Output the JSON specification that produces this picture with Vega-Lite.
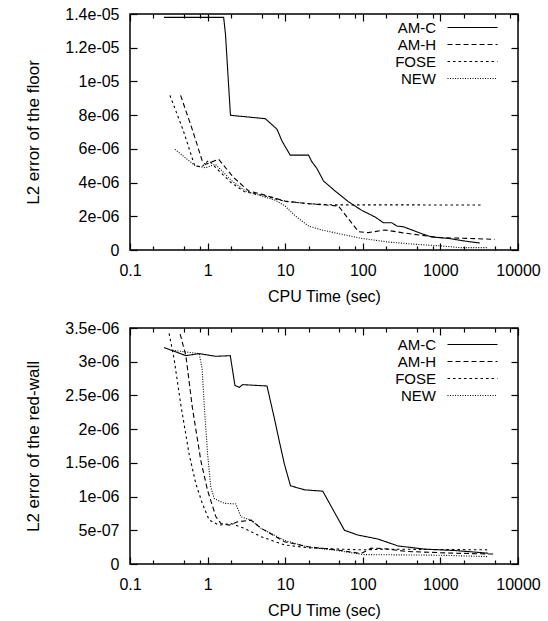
{
  "$schema": "https://vega.github.io/schema/vega-lite/v6.json",
  "padding": {"left": 23, "top": 5, "right": 5, "bottom": 5},
  "background": "white",
  "datasets": {
    "floor": [
      {"method": "AM-C", "t": 0.274, "err": 1.38e-05},
      {"method": "AM-C", "t": 1.61, "err": 1.38e-05},
      {"method": "AM-C", "t": 1.70, "err": 1.28e-05},
      {"method": "AM-C", "t": 1.97, "err": 7.99e-06},
      {"method": "AM-C", "t": 5.55, "err": 7.79e-06},
      {"method": "AM-C", "t": 7.85, "err": 7.16e-06},
      {"method": "AM-C", "t": 9.1, "err": 6.46e-06},
      {"method": "AM-C", "t": 11.6, "err": 5.63e-06},
      {"method": "AM-C", "t": 20, "err": 5.63e-06},
      {"method": "AM-C", "t": 22, "err": 5.24e-06},
      {"method": "AM-C", "t": 25.6, "err": 4.84e-06},
      {"method": "AM-C", "t": 31.2, "err": 4.09e-06},
      {"method": "AM-C", "t": 44, "err": 3.5e-06},
      {"method": "AM-C", "t": 65, "err": 2.87e-06},
      {"method": "AM-C", "t": 97, "err": 2.35e-06},
      {"method": "AM-C", "t": 144, "err": 1.96e-06},
      {"method": "AM-C", "t": 184, "err": 1.62e-06},
      {"method": "AM-C", "t": 236, "err": 1.62e-06},
      {"method": "AM-C", "t": 274, "err": 1.42e-06},
      {"method": "AM-C", "t": 333, "err": 1.38e-06},
      {"method": "AM-C", "t": 573, "err": 9.7e-07},
      {"method": "AM-C", "t": 770, "err": 7.7e-07},
      {"method": "AM-C", "t": 1260, "err": 6.9e-07},
      {"method": "AM-C", "t": 2065, "err": 5.3e-07},
      {"method": "AM-C", "t": 3220, "err": 4.15e-07},
      {"method": "AM-H", "t": 0.449, "err": 9.17e-06},
      {"method": "AM-H", "t": 0.634, "err": 7.16e-06},
      {"method": "AM-H", "t": 0.853, "err": 5.28e-06},
      {"method": "AM-H", "t": 0.94, "err": 5.08e-06},
      {"method": "AM-H", "t": 1.39, "err": 5.38e-06},
      {"method": "AM-H", "t": 2.17, "err": 4.29e-06},
      {"method": "AM-H", "t": 3.39, "err": 3.5e-06},
      {"method": "AM-H", "t": 5.03, "err": 3.3e-06},
      {"method": "AM-H", "t": 10, "err": 2.9e-06},
      {"method": "AM-H", "t": 20, "err": 2.75e-06},
      {"method": "AM-H", "t": 48.5, "err": 2.61e-06},
      {"method": "AM-H", "t": 88, "err": 1.09e-06},
      {"method": "AM-H", "t": 118, "err": 1.03e-06},
      {"method": "AM-H", "t": 194, "err": 1.19e-06},
      {"method": "AM-H", "t": 317, "err": 1.03e-06},
      {"method": "AM-H", "t": 573, "err": 8.7e-07},
      {"method": "AM-H", "t": 1035, "err": 7.3e-07},
      {"method": "AM-H", "t": 2275, "err": 6.9e-07},
      {"method": "AM-H", "t": 5000, "err": 6.3e-07},
      {"method": "FOSE", "t": 0.327, "err": 9.17e-06},
      {"method": "FOSE", "t": 0.48, "err": 7.16e-06},
      {"method": "FOSE", "t": 0.684, "err": 4.98e-06},
      {"method": "FOSE", "t": 0.85, "err": 4.95e-06},
      {"method": "FOSE", "t": 1.035, "err": 5.32e-06},
      {"method": "FOSE", "t": 1.4, "err": 4.7e-06},
      {"method": "FOSE", "t": 2.0, "err": 4.0e-06},
      {"method": "FOSE", "t": 3.0, "err": 3.45e-06},
      {"method": "FOSE", "t": 5, "err": 3.25e-06},
      {"method": "FOSE", "t": 10, "err": 2.88e-06},
      {"method": "FOSE", "t": 20, "err": 2.75e-06},
      {"method": "FOSE", "t": 40, "err": 2.68e-06},
      {"method": "FOSE", "t": 3400, "err": 2.67e-06},
      {"method": "NEW", "t": 0.379, "err": 5.97e-06},
      {"method": "NEW", "t": 0.70, "err": 4.98e-06},
      {"method": "NEW", "t": 0.94, "err": 4.88e-06},
      {"method": "NEW", "t": 1.26, "err": 5.08e-06},
      {"method": "NEW", "t": 2.07, "err": 4.09e-06},
      {"method": "NEW", "t": 3.07, "err": 3.5e-06},
      {"method": "NEW", "t": 5, "err": 3.2e-06},
      {"method": "NEW", "t": 7.5, "err": 2.95e-06},
      {"method": "NEW", "t": 10, "err": 2.6e-06},
      {"method": "NEW", "t": 13.5, "err": 2.02e-06},
      {"method": "NEW", "t": 20, "err": 1.42e-06},
      {"method": "NEW", "t": 29.5, "err": 1.19e-06},
      {"method": "NEW", "t": 54, "err": 9.3e-07},
      {"method": "NEW", "t": 97, "err": 6.9e-07},
      {"method": "NEW", "t": 214, "err": 4.7e-07},
      {"method": "NEW", "t": 470, "err": 3.4e-07},
      {"method": "NEW", "t": 1035, "err": 2.4e-07},
      {"method": "NEW", "t": 1800, "err": 1.4e-07},
      {"method": "NEW", "t": 4120, "err": 1.4e-07}
    ],
    "wall": [
      {"method": "AM-C", "t": 0.275, "err": 3.21e-06},
      {"method": "AM-C", "t": 0.525, "err": 3.09e-06},
      {"method": "AM-C", "t": 0.778, "err": 3.12e-06},
      {"method": "AM-C", "t": 1.28, "err": 3.08e-06},
      {"method": "AM-C", "t": 1.96, "err": 3.09e-06},
      {"method": "AM-C", "t": 2.25, "err": 2.65e-06},
      {"method": "AM-C", "t": 2.56, "err": 2.62e-06},
      {"method": "AM-C", "t": 2.83, "err": 2.66e-06},
      {"method": "AM-C", "t": 5.83, "err": 2.64e-06},
      {"method": "AM-C", "t": 7.25, "err": 2.16e-06},
      {"method": "AM-C", "t": 8.4, "err": 1.82e-06},
      {"method": "AM-C", "t": 9.77, "err": 1.48e-06},
      {"method": "AM-C", "t": 11.7, "err": 1.16e-06},
      {"method": "AM-C", "t": 17.7, "err": 1.10e-06},
      {"method": "AM-C", "t": 30.5, "err": 1.08e-06},
      {"method": "AM-C", "t": 58, "err": 5.0e-07},
      {"method": "AM-C", "t": 86, "err": 4.3e-07},
      {"method": "AM-C", "t": 157, "err": 3.7e-07},
      {"method": "AM-C", "t": 284, "err": 2.68e-07},
      {"method": "AM-C", "t": 630, "err": 2.2e-07},
      {"method": "AM-C", "t": 1535, "err": 2.0e-07},
      {"method": "AM-C", "t": 4130, "err": 1.6e-07},
      {"method": "AM-H", "t": 0.443, "err": 3.41e-06},
      {"method": "AM-H", "t": 0.525, "err": 3.09e-06},
      {"method": "AM-H", "t": 0.638, "err": 2.31e-06},
      {"method": "AM-H", "t": 0.819, "err": 1.53e-06},
      {"method": "AM-H", "t": 1.0, "err": 1.09e-06},
      {"method": "AM-H", "t": 1.28, "err": 7.0e-07},
      {"method": "AM-H", "t": 1.49, "err": 6.0e-07},
      {"method": "AM-H", "t": 1.9, "err": 5.76e-07},
      {"method": "AM-H", "t": 2.43, "err": 6.25e-07},
      {"method": "AM-H", "t": 3.63, "err": 6.5e-07},
      {"method": "AM-H", "t": 4.88, "err": 5.3e-07},
      {"method": "AM-H", "t": 9.8, "err": 3.3e-07},
      {"method": "AM-H", "t": 20, "err": 2.55e-07},
      {"method": "AM-H", "t": 50, "err": 2.05e-07},
      {"method": "AM-H", "t": 95, "err": 1.55e-07},
      {"method": "AM-H", "t": 129, "err": 2.35e-07},
      {"method": "AM-H", "t": 180, "err": 2.3e-07},
      {"method": "AM-H", "t": 383, "err": 1.85e-07},
      {"method": "AM-H", "t": 1535, "err": 1.6e-07},
      {"method": "AM-H", "t": 5050, "err": 1.47e-07},
      {"method": "FOSE", "t": 0.319, "err": 3.42e-06},
      {"method": "FOSE", "t": 0.37, "err": 3.04e-06},
      {"method": "FOSE", "t": 0.452, "err": 2.36e-06},
      {"method": "FOSE", "t": 0.578, "err": 1.63e-06},
      {"method": "FOSE", "t": 0.706, "err": 1.19e-06},
      {"method": "FOSE", "t": 0.86, "err": 8.9e-07},
      {"method": "FOSE", "t": 1.05, "err": 6.5e-07},
      {"method": "FOSE", "t": 1.41, "err": 5.76e-07},
      {"method": "FOSE", "t": 2.0, "err": 6.0e-07},
      {"method": "FOSE", "t": 2.97, "err": 5.3e-07},
      {"method": "FOSE", "t": 4.88, "err": 4.05e-07},
      {"method": "FOSE", "t": 9.8, "err": 2.83e-07},
      {"method": "FOSE", "t": 20, "err": 2.4e-07},
      {"method": "FOSE", "t": 50, "err": 2.2e-07},
      {"method": "FOSE", "t": 100, "err": 2.1e-07},
      {"method": "FOSE", "t": 200, "err": 2.2e-07},
      {"method": "FOSE", "t": 1000, "err": 2.15e-07},
      {"method": "FOSE", "t": 4000, "err": 2.1e-07},
      {"method": "NEW", "t": 0.352, "err": 3.17e-06},
      {"method": "NEW", "t": 0.778, "err": 3.12e-06},
      {"method": "NEW", "t": 0.85, "err": 2.9e-06},
      {"method": "NEW", "t": 0.904, "err": 2.36e-06},
      {"method": "NEW", "t": 1.0, "err": 1.63e-06},
      {"method": "NEW", "t": 1.1, "err": 1.14e-06},
      {"method": "NEW", "t": 1.22, "err": 9.7e-07},
      {"method": "NEW", "t": 1.64, "err": 9.0e-07},
      {"method": "NEW", "t": 2.32, "err": 8.9e-07},
      {"method": "NEW", "t": 2.69, "err": 7.0e-07},
      {"method": "NEW", "t": 3.63, "err": 6.5e-07},
      {"method": "NEW", "t": 4.88, "err": 5.3e-07},
      {"method": "NEW", "t": 9.8, "err": 3.5e-07},
      {"method": "NEW", "t": 20, "err": 2.5e-07},
      {"method": "NEW", "t": 50, "err": 1.95e-07},
      {"method": "NEW", "t": 100, "err": 1.4e-07},
      {"method": "NEW", "t": 1000, "err": 1.3e-07},
      {"method": "NEW", "t": 4000, "err": 1.1e-07}
    ]
  },
  "spacing": 14,
  "resolve": {"legend": {"strokeDash": "independent"}},
  "vconcat": [
    {
      "width": 388,
      "height": 236,
      "data": {"name": "floor"},
      "layer": [
        {
          "mark": {"type": "line", "color": "black", "strokeWidth": 1.1},
          "encoding": {
            "x": {"field": "t", "type": "quantitative",
              "scale": {"type": "log", "domain": [0.1, 10000]},
              "axis": {"orient": "bottom", "title": "CPU Time (sec)",
                "values": [0.1, 0.2, 0.5, 0.8, 1, 2, 5, 8, 10, 20, 50, 80, 100, 200, 500, 800, 1000, 2000, 5000, 8000, 10000],
                "format": "~g",
                "labelExpr": "(datum.value == 0.1 || datum.value == 1 || datum.value == 10 || datum.value == 100 || datum.value == 1000 || datum.value == 10000) ? datum.label : ''",
                "tickSize": {"condition": {"test": "datum.value == 0.1 || datum.value == 1 || datum.value == 10 || datum.value == 100 || datum.value == 1000 || datum.value == 10000", "value": -7}, "value": -4},
                "labelPadding": 19, "labelFlush": false, "labelOverlap": false, "titlePadding": 7}},
            "y": {"field": "err", "type": "quantitative",
              "scale": {"domain": [0, 1.4e-05], "nice": false},
              "axis": {"orient": "left", "title": "L2 error of the floor",
                "values": [0, 2e-06, 4e-06, 6e-06, 8e-06, 1e-05, 1.2e-05, 1.4e-05],
                "labelExpr": "datum.value == 0 ? '0' : replace(format(datum.value, '~e'), 'e-', 'e-0')",
                "tickSize": -7, "labelPadding": 18, "labelFlush": false, "labelOverlap": false, "titlePadding": 22, "titleFontSize": 17}},
            "strokeDash": {"field": "method", "type": "nominal",
              "scale": {"domain": ["AM-C", "AM-H", "FOSE", "NEW"], "range": [[1, 0], [5, 3], [2.5, 3], [1, 1.5]]},
              "legend": {"orient": "none", "legendX": 317, "legendY": 6, "title": null,
                "symbolType": "M-4,0H4", "symbolSize": 156, "symbolStrokeColor": "black", "symbolStrokeWidth": 1.1,
                "symbolFillColor": "transparent", "symbolOffset": 18, "labelAlign": "right", "labelOffset": -44,
                "rowPadding": 1, "padding": 0}}
          }
        },
        {
          "mark": {"type": "point", "opacity": 0},
          "encoding": {
            "x": {"field": "t", "type": "quantitative",
              "scale": {"type": "log", "domain": [0.1, 10000]},
              "axis": {"orient": "top", "title": null, "labels": false,
                "values": [0.1, 0.2, 0.5, 0.8, 1, 2, 5, 8, 10, 20, 50, 80, 100, 200, 500, 800, 1000, 2000, 5000, 8000, 10000],
                "tickSize": {"condition": {"test": "datum.value == 0.1 || datum.value == 1 || datum.value == 10 || datum.value == 100 || datum.value == 1000 || datum.value == 10000", "value": -7}, "value": -4}}},
            "y": {"field": "err", "type": "quantitative",
              "scale": {"domain": [0, 1.4e-05], "nice": false},
              "axis": {"orient": "right", "title": null, "labels": false,
                "values": [0, 2e-06, 4e-06, 6e-06, 8e-06, 1e-05, 1.2e-05, 1.4e-05], "tickSize": -7}}
          }
        }
      ],
      "resolve": {"axis": {"x": "independent", "y": "independent"}}
    },
    {
      "width": 388,
      "height": 236,
      "data": {"name": "wall"},
      "layer": [
        {
          "mark": {"type": "line", "color": "black", "strokeWidth": 1.1},
          "encoding": {
            "x": {"field": "t", "type": "quantitative",
              "scale": {"type": "log", "domain": [0.1, 10000]},
              "axis": {"orient": "bottom", "title": "CPU Time (sec)",
                "values": [0.1, 0.2, 0.5, 0.8, 1, 2, 5, 8, 10, 20, 50, 80, 100, 200, 500, 800, 1000, 2000, 5000, 8000, 10000],
                "format": "~g",
                "labelExpr": "(datum.value == 0.1 || datum.value == 1 || datum.value == 10 || datum.value == 100 || datum.value == 1000 || datum.value == 10000) ? datum.label : ''",
                "tickSize": {"condition": {"test": "datum.value == 0.1 || datum.value == 1 || datum.value == 10 || datum.value == 100 || datum.value == 1000 || datum.value == 10000", "value": -7}, "value": -4},
                "labelPadding": 19, "labelFlush": false, "labelOverlap": false, "titlePadding": 7}},
            "y": {"field": "err", "type": "quantitative",
              "scale": {"domain": [0, 3.5e-06], "nice": false},
              "axis": {"orient": "left", "title": "L2 error of the red-wall",
                "values": [0, 5e-07, 1e-06, 1.5e-06, 2e-06, 2.5e-06, 3e-06, 3.5e-06],
                "labelExpr": "datum.value == 0 ? '0' : replace(format(datum.value, '~e'), 'e-', 'e-0')",
                "tickSize": -7, "labelPadding": 18, "labelFlush": false, "labelOverlap": false, "titlePadding": 22, "titleFontSize": 17}},
            "strokeDash": {"field": "method", "type": "nominal",
              "scale": {"domain": ["AM-C", "AM-H", "FOSE", "NEW"], "range": [[1, 0], [5, 3], [2.5, 3], [1, 1.5]]},
              "legend": {"orient": "none", "legendX": 317, "legendY": 9, "title": null,
                "symbolType": "M-4,0H4", "symbolSize": 156, "symbolStrokeColor": "black", "symbolStrokeWidth": 1.1,
                "symbolFillColor": "transparent", "symbolOffset": 18, "labelAlign": "right", "labelOffset": -44,
                "rowPadding": 1, "padding": 0}}
          }
        },
        {
          "mark": {"type": "point", "opacity": 0},
          "encoding": {
            "x": {"field": "t", "type": "quantitative",
              "scale": {"type": "log", "domain": [0.1, 10000]},
              "axis": {"orient": "top", "title": null, "labels": false,
                "values": [0.1, 0.2, 0.5, 0.8, 1, 2, 5, 8, 10, 20, 50, 80, 100, 200, 500, 800, 1000, 2000, 5000, 8000, 10000],
                "tickSize": {"condition": {"test": "datum.value == 0.1 || datum.value == 1 || datum.value == 10 || datum.value == 100 || datum.value == 1000 || datum.value == 10000", "value": -7}, "value": -4}}},
            "y": {"field": "err", "type": "quantitative",
              "scale": {"domain": [0, 3.5e-06], "nice": false},
              "axis": {"orient": "right", "title": null, "labels": false,
                "values": [0, 5e-07, 1e-06, 1.5e-06, 2e-06, 2.5e-06, 3e-06, 3.5e-06], "tickSize": -7}}
          }
        }
      ],
      "resolve": {"axis": {"x": "independent", "y": "independent"}}
    }
  ],
  "config": {
    "view": {"stroke": "black", "strokeWidth": 1.5},
    "axis": {"domain": false, "grid": false, "tickColor": "black", "tickWidth": 1.2,
      "labelColor": "black", "titleColor": "black",
      "labelFont": "Liberation Sans", "titleFont": "Liberation Sans",
      "labelFontSize": 16, "titleFontSize": 16, "titleFontWeight": "normal"},
    "legend": {"labelFont": "Liberation Sans", "labelFontSize": 15, "labelColor": "black"}
  }
}
